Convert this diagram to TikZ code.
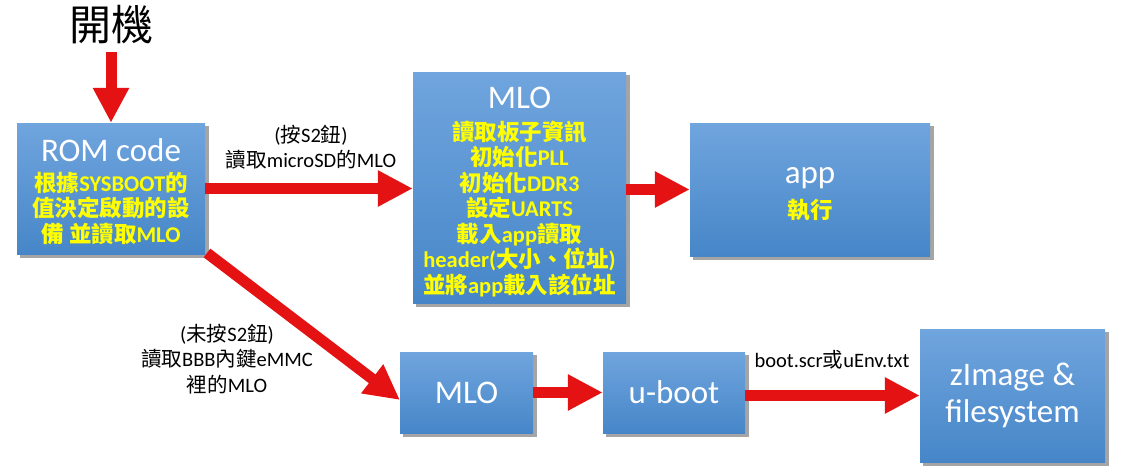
\documentclass[tikz,border=0pt]{standalone}
\usepackage{fontspec}
\setmainfont{Carlito}
\newfontfamily\cjk{Noto Sans CJK TC}
\usetikzlibrary{arrows.meta,calc,backgrounds}
\definecolor{boxtop}{RGB}{112,165,222}
\definecolor{boxbot}{RGB}{70,134,200}
\definecolor{arrred}{RGB}{228,18,18}
\definecolor{ylw}{RGB}{255,255,0}
\definecolor{shadowc}{RGB}{165,165,165}
\newcommand\zh[1]{{\cjk #1}}
\tikzset{
  box/.style={rectangle, top color=boxtop, bottom color=boxbot, draw=none, inner sep=0pt},
  ttl/.style={text=white, inner sep=0pt, font=\fontsize{33}{36}\selectfont},
  ytxt/.style={text=ylw, align=center, inner sep=0pt, font=\bfseries\fontsize{22.5}{25.5}\selectfont},
  bigarrow/.style={line width=11pt, draw=arrred, -{Triangle[length=35pt,width=34pt]}},
  lbl/.style={align=center, text=black, font=\fontsize{20.5}{25.5}\selectfont, inner sep=0pt}
}
\begin{document}
\begin{tikzpicture}[x=1pt,y=-1pt]
\useasboundingbox (0,0) rectangle (1145,474);
\node[inner sep=0pt, font=\fontsize{42}{44}\selectfont\cjk] (kaiji) at (111,25) {開機};

\node[box, minimum width=188pt, minimum height=131pt] (rom) at (111,188.5) {};
\node[box, minimum width=213pt, minimum height=231pt] (mloA) at (519.5,187.5) {};
\node[box, minimum width=240pt, minimum height=133pt] (app) at (810,189.5) {};
\node[box, minimum width=133pt, minimum height=81pt] (mlo2) at (466.5,392.5) {};
\node[box, minimum width=142pt, minimum height=81pt] (uboot) at (674,392.5) {};
\node[box, minimum width=185pt, minimum height=133pt] (zimg) at (1012.5,395.5) {};

\begin{scope}[on background layer]
  \foreach \n in {rom,mloA,app,mlo2,uboot,zimg}
    \fill[shadowc] ($(\n.south west)+(3.5,3.5)$) rectangle ($(\n.north east)+(3.5,3.5)$);
\end{scope}

\node[ttl] (romt) at (111,150) {ROM code};
\node[ytxt] (romb) at (111,208.5) {\zh{根據}SYSBOOT\zh{的}\\ \zh{值決定啟動的設}\\ \zh{備 並讀取}MLO};

\node[ttl] (mloAt) at (519.5,98) {MLO};
\node[ytxt] (mloAb) at (519.5,209) {\zh{讀取板子資訊}\\ \zh{初始化}PLL\\ \zh{初始化}DDR3\\ \zh{設定}UARTS\\ \zh{載入}app\zh{讀取}\\ header(\zh{大小、位址})\\ \zh{並將}app\zh{載入該位址}};

\node[ttl] (appt) at (810,178) {app};
\node[ytxt] (appb) at (810,210) {\zh{執行}};

\node[ttl] (mlo2t) at (mlo2) {MLO};
\node[ttl] (uboott) at (uboot) {u-boot};
\node[ttl, align=center, font=\fontsize{33}{37}\selectfont] (zimgt) at (zimg) {zImage \&\\ filesystem};

\node[lbl] (l1) at (311,147) {(\zh{按}S2\zh{鈕})\\ \zh{讀取}microSD\zh{的}MLO};
\node[lbl] (l2) at (227,359) {(\zh{未按}S2\zh{鈕})\\ \zh{讀取}BBB\zh{內鍵}eMMC\\ \zh{裡的}MLO};
\node[lbl] (l3) at (832,360) {boot.scr\zh{或}uEnv.txt};

\coordinate (diagS) at (207,253);
\coordinate (diagE) at (400,400);

\draw[bigarrow, shorten <=7pt] (kaiji.south) -- (rom.north);
\draw[bigarrow] (rom.east) -- (rom.east -| mloA.west);
\draw[bigarrow] (mloA.east |- app.west) -- (app.west);
\draw[bigarrow] (diagS) -- (diagE);
\draw[bigarrow] (mlo2.east) -- (uboot.west);
\draw[bigarrow] (uboot.east |- zimg.west) -- (zimg.west);
\end{tikzpicture}
\end{document}
